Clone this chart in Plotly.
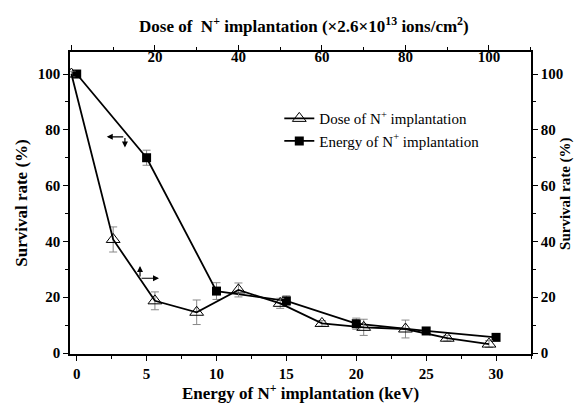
import plotly.graph_objects as go

# Energy series (bottom axis, keV)
energy_kev = [0, 5, 10, 15, 20, 25, 30]
energy_survival = [100, 70, 22.2, 18.7, 10.5, 7.9, 5.6]
energy_err = [1, 2.7, 3.0, 1.8, 2.0, 1.0, 1.0]

# Dose series (top axis, x2.6e13 ions/cm2)
dose = [0, 10, 20, 30, 40, 50, 60, 70, 80, 90, 100]
dose_survival = [100, 40.7, 18.7, 14.6, 22.6, 17.8, 10.6, 9.2, 8.6, 5.3, 3.2]
dose_err = [1, 4.5, 3.2, 4.4, 2.5, 1.8, 1.0, 2.9, 3.2, 1.0, 1.2]

FONT = "Liberation Serif"
tickfont = dict(family=FONT, size=15, color="black", weight="bold")

fig = go.Figure()
fig.add_trace(go.Scatter(
    x=dose, y=dose_survival, xaxis="x2", yaxis="y2",
    mode="lines+markers", name="Dose of N<sup>+</sup> implantation",
    line=dict(color="black", width=1.8),
    marker=dict(symbol="triangle-up-open", size=12, color="black", line=dict(width=1)),
    error_y=dict(type="data", array=dose_err, color="#888888", thickness=1, width=4),
))
fig.add_trace(go.Scatter(
    x=energy_kev, y=energy_survival, xaxis="x", yaxis="y",
    mode="lines+markers", name="Energy of N<sup>+</sup> implantation",
    line=dict(color="black", width=1.8),
    marker=dict(symbol="square", size=9, color="black"),
    error_y=dict(type="data", array=energy_err, color="#888888", thickness=1, width=4),
))

axis_common = dict(showline=True, linecolor="black", linewidth=1.5, ticks="outside",
                   ticklen=5, tickwidth=1.2, tickcolor="black", showgrid=False,
                   zeroline=False, tickfont=tickfont, automargin=False)

yr = [-0.36, 107.9]
fig.update_layout(
    width=574, height=403,
    margin=dict(l=70, r=43, t=52, b=49),
    paper_bgcolor="white", plot_bgcolor="white",
    showlegend=True,
    legend=dict(x=0.454, y=0.834, xanchor="left", yanchor="top",
                font=dict(family=FONT, size=15, color="black"),
                bgcolor="rgba(0,0,0,0)", tracegroupgap=4, itemwidth=30),
    xaxis=dict(range=[-0.479, 32.5], tickvals=[0, 5, 10, 15, 20, 25, 30],
               minor=dict(ticks="outside", dtick=2.5, ticklen=3, tickcolor="black"),
               title=dict(text="Energy of N<sup>+</sup> implantation (keV)",
                          font=dict(family=FONT, size=17, color="black", weight="bold"),
                          standoff=4),
               **axis_common),
    yaxis=dict(range=yr, tickvals=[0, 20, 40, 60, 80, 100],
               minor=dict(ticks="outside", dtick=10, ticklen=3, tickcolor="black"),
               title=dict(text="Survival rate (%)",
                          font=dict(family=FONT, size=17, color="black", weight="bold"),
                          standoff=6),
               **axis_common),
    xaxis2=dict(overlaying="x", side="top", anchor="y2", range=[-0.335, 110.06],
                tickvals=[0, 20, 40, 60, 80, 100], ticklabelposition="inside",
                minor=dict(ticks="outside", dtick=10, ticklen=3, tickcolor="black"),
                **axis_common),
    yaxis2=dict(overlaying="y", side="right", anchor="x2", range=yr,
                tickvals=[0, 20, 40, 60, 80, 100],
                minor=dict(ticks="outside", dtick=10, ticklen=3, tickcolor="black"),
                **axis_common),
)

ann_font = dict(family=FONT, size=17, color="black", weight="bold")
fig.add_annotation(xref="paper", yref="paper", x=0.508, y=1.089, showarrow=False,
                   text="Dose of  N<sup>+</sup> implantation (×2.6×10<sup>13</sup> ions/cm<sup>2</sup>)",
                   font=ann_font, xanchor="center", yanchor="middle")
fig.add_annotation(xref="paper", yref="paper", x=(566 - 70) / 461, y=0.53, showarrow=False,
                   text="Survival rate (%)", textangle=-90,
                   font=dict(family=FONT, size=15, color="black", weight="bold"),
                   xanchor="center", yanchor="middle")

# arrows
arrow = dict(showarrow=True, arrowhead=2, arrowsize=1, arrowwidth=1.2, arrowcolor="black",
             axref="pixel", ayref="pixel", text="", xref="x", yref="y")
fig.add_annotation(x=2.15, y=77.5, ax=18, ay=0, **arrow)
fig.add_annotation(x=3.45, y=73.7, ax=0, ay=-11, **arrow)
fig.add_annotation(x=4.53, y=31.2, ax=0, ay=12, **arrow)
fig.add_annotation(x=5.89, y=26.8, ax=-19, ay=0, **arrow)

fig.write_html("out.html")
